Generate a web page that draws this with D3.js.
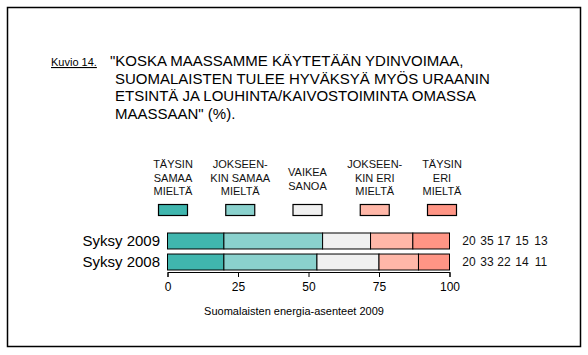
<!DOCTYPE html>
<html>
<head>
<meta charset="utf-8">
<script src="https://cdn.jsdelivr.net/npm/d3@7"></script>
<style>
  body { margin: 0; background: #fff; }
  svg { font-family: "Liberation Sans", Arial, sans-serif; }
</style>
</head>
<body>
<div id="chart"></div>
<script>
// Survey data (%)
const years = ['Syksy 2009', 'Syksy 2008'];
const answers = ['Täysin samaa mieltä', 'Jokseenkin samaa mieltä', 'Vaikea sanoa', 'Jokseenkin eri mieltä', 'Täysin eri mieltä'];
const answerLabels = [
  ['TÄYSIN', 'SAMAA', 'MIELTÄ'],
  ['JOKSEEN-', 'KIN SAMAA', 'MIELTÄ'],
  ['VAIKEA', 'SANOA'],
  ['JOKSEEN-', 'KIN ERI', 'MIELTÄ'],
  ['TÄYSIN', 'ERI', 'MIELTÄ']
];
const values2009 = [20, 35, 17, 15, 13];
const values2008 = [20, 33, 22, 14, 11];
const xTicks = [0, 25, 50, 75, 100];
const titleLines = [
  '"KOSKA MAASSAMME KÄYTETÄÄN YDINVOIMAA,',
  'SUOMALAISTEN TULEE HYVÄKSYÄ MYÖS URAANIN',
  'ETSINTÄ JA LOUHINTA/KAIVOSTOIMINTA OMASSA',
  'MAASSAAN" (%).'
];
const colors = ['#40b6ae', '#8ad1cd', '#f0f0f0', '#ffb7a8', '#ff9585'];

const rows = [values2009, values2008];

const width = 588, height = 355;
const svg = d3.select('#chart').append('svg')
  .attr('width', width)
  .attr('height', height);

// frame
svg.append('rect')
  .attr('x', 7.5).attr('y', 7.5)
  .attr('width', 573).attr('height', 339)
  .attr('fill', 'none')
  .attr('stroke', '#000')
  .attr('stroke-width', 1.5);

// title
svg.append('text')
  .attr('x', 51).attr('y', 66)
  .attr('font-size', 11)
  .attr('text-decoration', 'underline')
  .text('Kuvio 14.');

svg.append('g').selectAll('text')
  .data(titleLines)
  .join('text')
  .attr('x', (d, i) => i === 0 ? 110 : 115)
  .attr('y', (d, i) => 66 + i * 17.7)
  .attr('font-size', 15)
  .text(d => d);

// scales
const x = d3.scaleLinear().domain([0, 100]).range([167.5, 449.5]);
const y = d3.scaleBand().domain(years).range([233, 270]).paddingInner(0.24);
const color = d3.scaleOrdinal().domain(answers).range(colors);
const lx = d3.scalePoint().domain(answers).range([173, 442]);

// legend
const legend = svg.append('g').selectAll('g')
  .data(answers)
  .join('g')
  .attr('transform', d => `translate(${lx(d)},0)`);

legend.each(function (d, i) {
  const g = d3.select(this);
  const lines = answerLabels[i];
  const top = lines.length === 3 ? 168 : 176;
  g.selectAll('text')
    .data(lines)
    .join('text')
    .attr('x', 0)
    .attr('y', (t, j) => top + j * 13.5)
    .attr('text-anchor', 'middle')
    .attr('font-size', 11)
    .attr('fill', '#111')
    .text(t => t);
  g.append('rect')
    .attr('x', -14.5).attr('y', 204.5)
    .attr('width', 29).attr('height', 11)
    .attr('fill', color(d))
    .attr('stroke', '#000')
    .attr('stroke-width', 1.2);
});

// stacked bars
const stackData = years.map((yr, i) => {
  let acc = 0;
  return rows[i].map((v, j) => {
    const seg = { year: yr, answer: answers[j], x0: acc, x1: acc + v, v };
    acc += v;
    return seg;
  });
});

svg.append('g').selectAll('g')
  .data(stackData)
  .join('g')
  .selectAll('rect')
  .data(d => d)
  .join('rect')
  .attr('x', d => x(d.x0))
  .attr('y', d => y(d.year))
  .attr('width', d => x(d.x1) - x(d.x0))
  .attr('height', y.bandwidth())
  .attr('fill', d => color(d.answer))
  .attr('stroke', '#000')
  .attr('stroke-width', 1);

// row labels
svg.append('g').selectAll('text')
  .data(years)
  .join('text')
  .attr('x', 160)
  .attr('y', d => y(d) + y.bandwidth() / 2)
  .attr('dy', '0.36em')
  .attr('text-anchor', 'end')
  .attr('font-size', 15)
  .text(d => d);

// value columns
const valX = [469, 487, 504, 522, 541];
svg.append('g').selectAll('g')
  .data(stackData)
  .join('g')
  .selectAll('text')
  .data(d => d)
  .join('text')
  .attr('x', (d, j) => valX[j])
  .attr('y', d => y(d.year) + y.bandwidth() / 2)
  .attr('dy', '0.36em')
  .attr('text-anchor', 'middle')
  .attr('font-size', 12)
  .attr('fill', '#111')
  .text(d => d.v);

// axis
const axis = svg.append('g')
  .attr('transform', 'translate(0,272)')
  .call(d3.axisBottom(x).tickValues(xTicks).tickSize(5).tickSizeOuter(5));
axis.selectAll('path, line').attr('stroke', '#000');
axis.selectAll('text')
  .attr('font-size', 12)
  .attr('font-family', '"Liberation Sans", Arial, sans-serif')
  .attr('fill', '#000')
  .attr('dy', '0.95em');

svg.append('text')
  .attr('x', 294).attr('y', 315)
  .attr('text-anchor', 'middle')
  .attr('font-size', 11)
  .text('Suomalaisten energia-asenteet 2009');
</script>
</body>
</html>
